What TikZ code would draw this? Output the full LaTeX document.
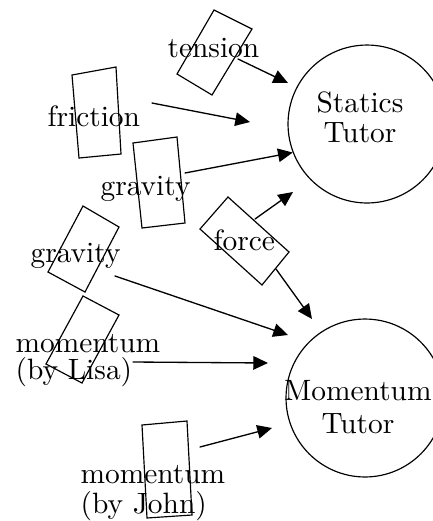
\documentclass[tikz,border=0pt]{standalone}
\usepackage{tikz}
\usetikzlibrary{arrows.meta}

\tikzset{
  tutor/.style={draw, circle, minimum size=53.7pt, inner sep=0pt},
  tutortext/.style={inner sep=0pt, anchor=base, align=center},
  lbl/.style={inner sep=0pt, anchor=base west, align=left,
              font=\fontsize{10}{10}\selectfont},
  box/.style={line width=0.4pt},
  feed/.style={line width=0.45pt, -{Triangle[length=5pt,width=4.6pt]}}
}

\begin{document}
\begin{tikzpicture}[x=0.34pt,y=-0.34pt,line cap=round]
  \useasboundingbox (0,0) rectangle (433,521);
  \clip (0,0) rectangle (433,521);

  % --- tutors ---
  \node[tutor] (statics) at (367,124) {};
  \node[tutor] (momtutor) at (365,398) {};
  \node[tutortext, font=\fontsize{10}{10.2}\selectfont] (staticsT) at (360,142) {Statics\\Tutor};
  \node[tutortext, font=\fontsize{10}{11.2}\selectfont] (momtutorT) at (358,433) {Momentum\\Tutor};

  % --- blank boxes behind the labels ---
  \draw[box] (214,10) -- (252,29) -- (212,95) -- (177,74) -- cycle;
  \draw[box] (72,75) -- (116,67) -- (121,154) -- (79,158) -- cycle;
  \draw[box] (133,143) -- (177,137) -- (185,223) -- (142,228) -- cycle;
  \draw[box] (228,197) -- (289,252) -- (262,285) -- (200,229) -- cycle;
  \draw[box] (83,206) -- (119,227) -- (85,292) -- (48,272) -- cycle;
  \draw[box] (83,296) -- (119,315) -- (82,383) -- (46,364) -- cycle;
  \draw[box] (142,425) -- (187,421) -- (192,515) -- (147,518) -- cycle;

  % --- labels ---
  \node[lbl] (tension) at (167,57) {tension};
  \node[lbl] (friction) at (47,126) {friction};
  \node[lbl] (gravA) at (100,195) {gravity};
  \node[lbl] (force) at (213,250) {force};
  \node[lbl] (gravB) at (30,262) {gravity};
  \node[lbl] (lisa) at (15,379) {momentum\\[-1pt](by Lisa)};
  \node[lbl] (john) at (80,513) {momentum\\[0pt](by John)};

  % --- arrow ends ---
  \coordinate (tensionS) at (238,59);   \coordinate (tensionT) at (288,83);
  \coordinate (frictionS) at (152,103); \coordinate (frictionT) at (250,122);
  \coordinate (gravAS) at (185,173);
  \coordinate (forceS) at (255,219);    \coordinate (forceT) at (293,192);
  \coordinate (forceS2) at (276,269);   \coordinate (forceT2) at (312,319);
  \coordinate (gravBS) at (115,276);    \coordinate (gravBT) at (288,335);
  \coordinate (lisaS) at (133,362);     \coordinate (lisaT) at (268,363);
  \coordinate (johnS) at (200,447);     \coordinate (johnT) at (272,428);

  % --- arrows ---
  \draw[feed] (tensionS) -- (tensionT);
  \draw[feed] (frictionS) -- (frictionT);
  \draw[feed] (gravAS) -- (statics.201);
  \draw[feed] (forceS) -- (forceT);
  \draw[feed] (forceS2) -- (forceT2);
  \draw[feed] (gravBS) -- (gravBT);
  \draw[feed] (lisaS) -- (lisaT);
  \draw[feed] (johnS) -- (johnT);
\end{tikzpicture}
\end{document}
